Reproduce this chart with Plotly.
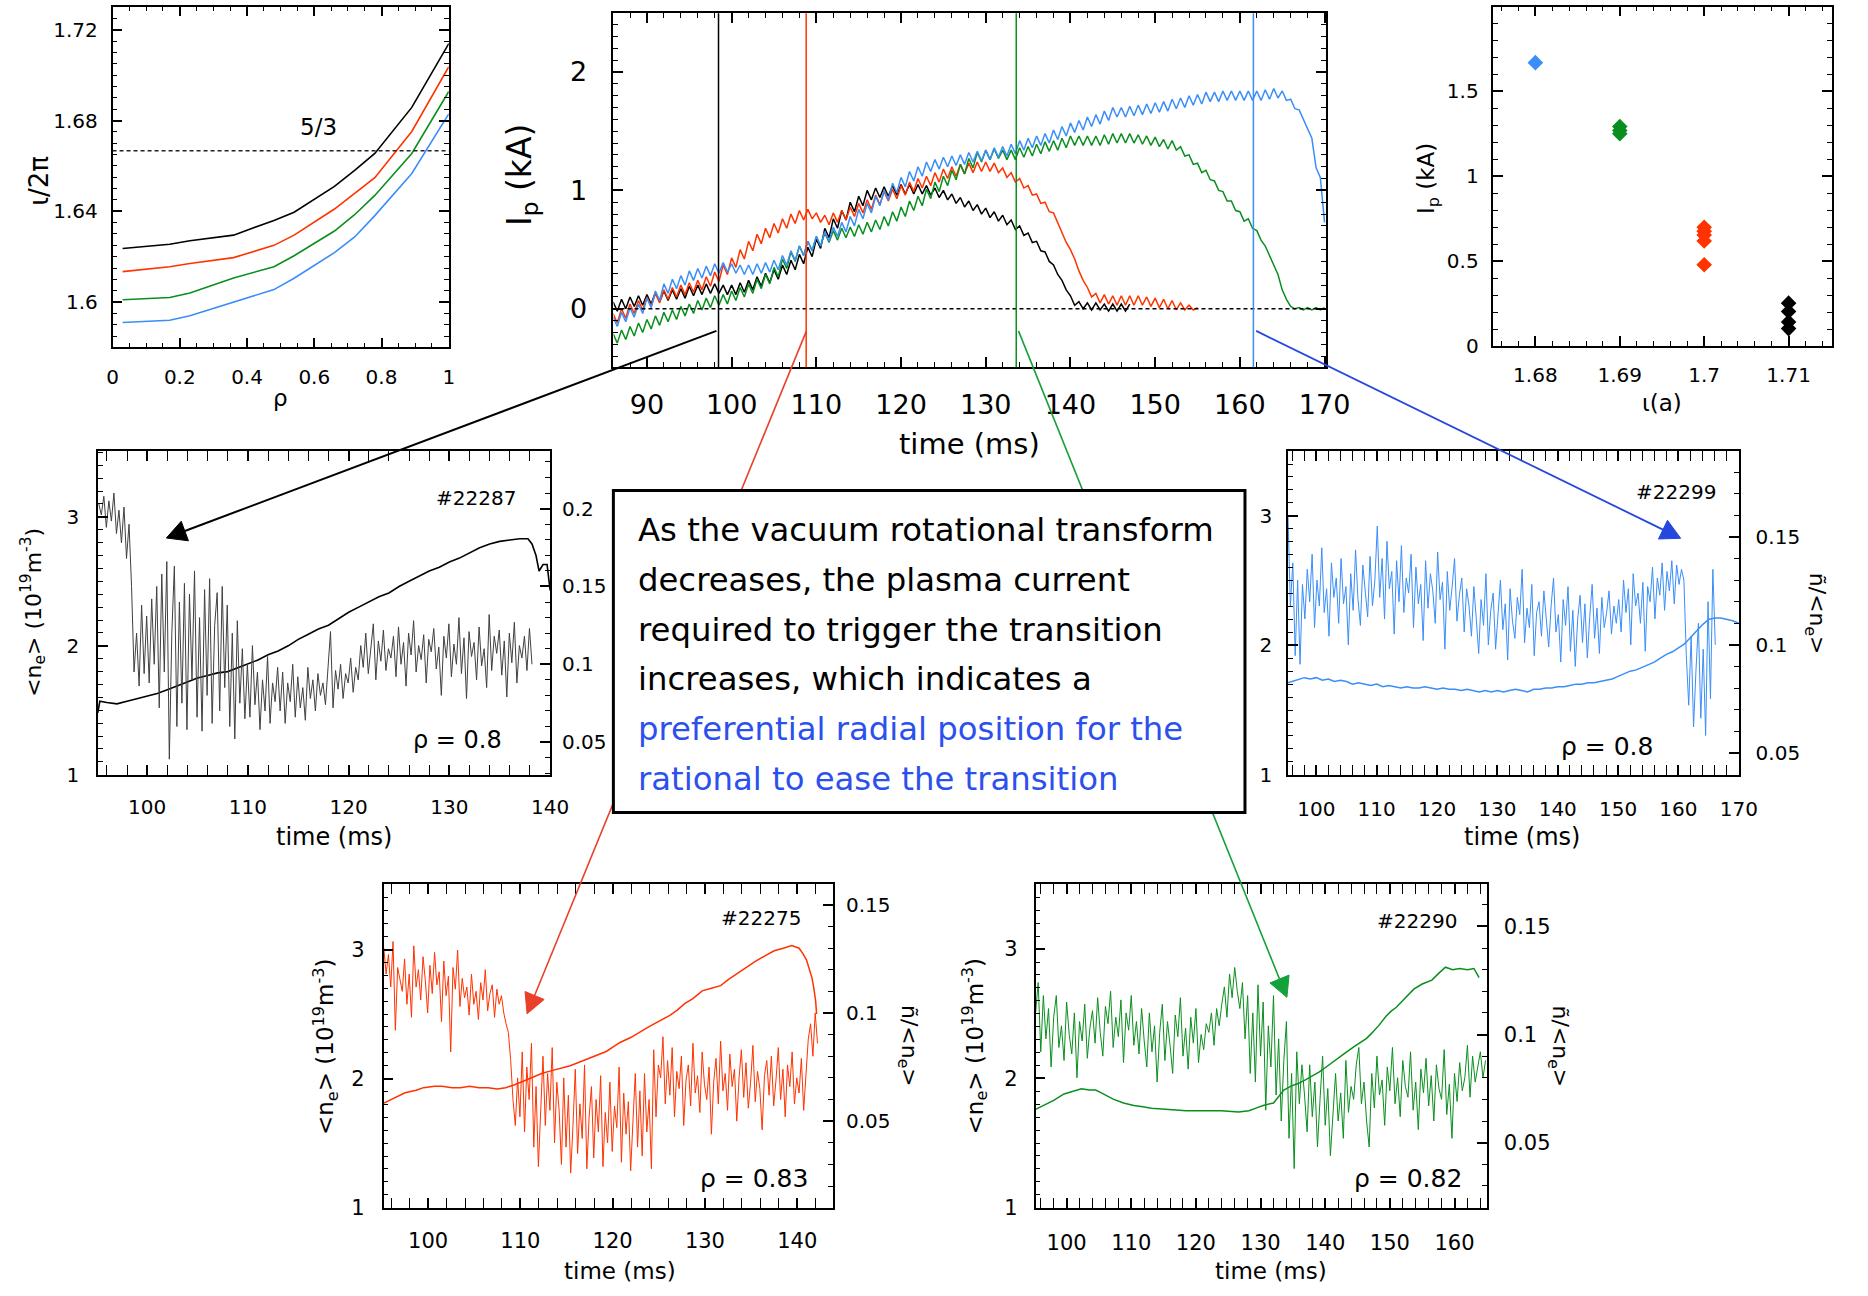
import numpy as np
import plotly.graph_objects as go

W, H = 1868, 1296
FONT = "DejaVu Sans"

# ---------------- colours ----------------
C_BLACK = "#000000"
C_RED = "#FF3300"
C_GREEN = "#0A8F1E"
C_BLUE = "#3A8EF8"
C_GRAY = "#404040"

# ---------------- top-left: iota profiles ----------------
rho = [0.03, 0.17, 0.23, 0.36, 0.48, 0.54, 0.66, 0.72, 0.78, 0.89, 1.0]
iota_black = [1.6236, 1.6255, 1.6270, 1.6295, 1.6360, 1.6396, 1.6510, 1.6580, 1.6655, 1.6858, 1.7139]
iota_red = [1.6134, 1.6156, 1.6170, 1.6196, 1.6250, 1.6295, 1.6410, 1.6480, 1.6548, 1.6752, 1.7037]
iota_green = [1.6010, 1.6020, 1.6040, 1.6106, 1.6156, 1.6204, 1.6313, 1.6385, 1.6470, 1.6655, 1.6928]
iota_blue = [1.5910, 1.5920, 1.5940, 1.6000, 1.6055, 1.6105, 1.6218, 1.6287, 1.6381, 1.6567, 1.6829]
iota_rational = 5 / 3

# ---------------- top-middle: plasma current ----------------
ip_t0, ip_dt = 86.0, 0.5
ip_black = [0.06, -0.02, 0.08, 0.00, 0.10, 0.02, 0.11, 0.03, 0.12, 0.04, 0.14, 0.06, 0.15, 0.07, 0.16, 0.08,
            0.17, 0.09, 0.19, 0.11, 0.20, 0.12, 0.21, 0.13, 0.21, 0.13, 0.20, 0.12, 0.20, 0.12, 0.22, 0.14,
            0.24, 0.16, 0.27, 0.19, 0.30, 0.22, 0.33, 0.25, 0.37, 0.29, 0.41, 0.33, 0.46, 0.38, 0.52, 0.44,
            0.59, 0.51, 0.68, 0.60, 0.76, 0.68, 0.83, 0.75, 0.90, 0.82, 0.95, 0.87, 1.00, 0.92, 1.02, 0.94,
            1.03, 0.95, 1.04, 0.96, 1.05, 0.97, 1.05, 0.97, 1.05, 0.97, 1.04, 0.96, 1.02, 0.94, 1.00, 0.92,
            0.97, 0.89, 0.94, 0.86, 0.91, 0.83, 0.88, 0.80, 0.85, 0.77, 0.82, 0.74, 0.79, 0.71, 0.75, 0.67,
            0.70, 0.62, 0.64, 0.56, 0.57, 0.49, 0.48, 0.40, 0.37, 0.29, 0.24, 0.16, 0.11, 0.03, 0.06, 0.00,
            0.05, -0.01, 0.05, -0.01, 0.04, -0.02, 0.04, -0.02, 0.04, -0.02, 0.04]
ip_red = [-0.04, -0.12, 0.00, -0.08, 0.04, -0.04, 0.07, -0.01, 0.10, 0.02, 0.13, 0.05, 0.16, 0.08, 0.18, 0.10,
          0.20, 0.12, 0.22, 0.14, 0.24, 0.16, 0.27, 0.19, 0.31, 0.23, 0.37, 0.29, 0.43, 0.35, 0.50, 0.42,
          0.57, 0.49, 0.63, 0.55, 0.68, 0.60, 0.72, 0.64, 0.76, 0.68, 0.80, 0.72, 0.83, 0.75, 0.84, 0.76,
          0.81, 0.73, 0.79, 0.71, 0.81, 0.73, 0.83, 0.75, 0.86, 0.78, 0.89, 0.81, 0.92, 0.84, 0.96, 0.88,
          0.99, 0.91, 1.01, 0.93, 1.04, 0.96, 1.07, 0.99, 1.10, 1.02, 1.12, 1.04, 1.15, 1.07, 1.18, 1.10,
          1.20, 1.12, 1.22, 1.14, 1.23, 1.15, 1.24, 1.16, 1.24, 1.16, 1.23, 1.15, 1.19, 1.11, 1.15, 1.07,
          1.10, 1.02, 1.04, 0.96, 0.97, 0.89, 0.90, 0.82, 0.81, 0.73, 0.64, 0.56, 0.50, 0.42, 0.32, 0.24,
          0.18, 0.10, 0.13, 0.05, 0.12, 0.04, 0.11, 0.03, 0.11, 0.03, 0.11, 0.03, 0.11, 0.03, 0.10, 0.02,
          0.09, 0.01, 0.08, 0.00, 0.07, -0.01, 0.05, -0.01, 0.03, -0.01, 0.01]
ip_green = [-0.21, -0.29, -0.18, -0.26, -0.15, -0.23, -0.12, -0.20, -0.09, -0.17, -0.06, -0.14, -0.03, -0.11,
            -0.01, -0.09, 0.02, -0.06, 0.04, -0.04, 0.07, -0.01, 0.09, 0.01, 0.11, 0.03, 0.12, 0.04, 0.15, 0.07,
            0.18, 0.10, 0.21, 0.13, 0.25, 0.17, 0.29, 0.21, 0.35, 0.27, 0.42, 0.34, 0.48, 0.40, 0.53, 0.45,
            0.57, 0.49, 0.61, 0.53, 0.64, 0.56, 0.66, 0.58, 0.68, 0.60, 0.69, 0.61, 0.71, 0.63, 0.73, 0.65,
            0.75, 0.67, 0.78, 0.70, 0.82, 0.74, 0.86, 0.78, 0.91, 0.83, 0.95, 0.87, 1.01, 0.93, 1.07, 0.99,
            1.12, 1.04, 1.17, 1.09, 1.22, 1.14, 1.27, 1.19, 1.32, 1.24, 1.34, 1.26, 1.35, 1.27, 1.34, 1.26,
            1.34, 1.26, 1.36, 1.28, 1.37, 1.29, 1.39, 1.31, 1.41, 1.33, 1.42, 1.34, 1.44, 1.36, 1.46, 1.38,
            1.46, 1.38, 1.46, 1.38, 1.46, 1.38, 1.47, 1.39, 1.48, 1.40, 1.48, 1.40, 1.48, 1.40, 1.47, 1.39,
            1.46, 1.38, 1.45, 1.37, 1.43, 1.35, 1.42, 1.34, 1.37, 1.29, 1.30, 1.22, 1.23, 1.15, 1.17, 1.09,
            1.08, 1.00, 0.99, 0.91, 0.91, 0.83, 0.82, 0.74, 0.76, 0.68, 0.66, 0.58, 0.53, 0.45, 0.37, 0.29,
            0.16, 0.08, 0.02, 0.00, 0.01, -0.01, 0.01, -0.01, 0.01, -0.01, 0.01]
ip_blue = [-0.07, -0.15, -0.03, -0.11, 0.01, -0.07, 0.04, -0.04, 0.09, 0.01, 0.15, 0.07, 0.21, 0.13, 0.25, 0.17,
           0.28, 0.20, 0.32, 0.24, 0.34, 0.26, 0.36, 0.28, 0.38, 0.30, 0.39, 0.31, 0.38, 0.30, 0.37, 0.29,
           0.37, 0.29, 0.38, 0.30, 0.39, 0.31, 0.41, 0.33, 0.45, 0.37, 0.49, 0.41, 0.53, 0.45, 0.57, 0.49,
           0.61, 0.53, 0.65, 0.57, 0.69, 0.61, 0.73, 0.65, 0.78, 0.70, 0.84, 0.76, 0.89, 0.81, 0.95, 0.87,
           1.00, 0.92, 1.06, 0.98, 1.11, 1.03, 1.16, 1.08, 1.20, 1.12, 1.24, 1.16, 1.26, 1.18, 1.28, 1.20,
           1.29, 1.21, 1.30, 1.22, 1.32, 1.24, 1.33, 1.25, 1.34, 1.26, 1.36, 1.28, 1.37, 1.29, 1.39, 1.31,
           1.42, 1.34, 1.44, 1.36, 1.46, 1.38, 1.48, 1.40, 1.51, 1.43, 1.54, 1.46, 1.57, 1.49, 1.59, 1.51,
           1.62, 1.54, 1.64, 1.56, 1.67, 1.59, 1.70, 1.62, 1.70, 1.62, 1.71, 1.63, 1.72, 1.64, 1.73, 1.65,
           1.74, 1.66, 1.75, 1.67, 1.77, 1.69, 1.78, 1.70, 1.80, 1.72, 1.81, 1.73, 1.83, 1.75, 1.83, 1.75,
           1.84, 1.76, 1.84, 1.76, 1.84, 1.76, 1.84, 1.76, 1.84, 1.76, 1.85, 1.77, 1.86, 1.78, 1.84, 1.76,
           1.77, 1.69, 1.68, 1.60, 1.52, 1.44, 1.19, 1.11, 0.73]
marker_times = [98.45, 108.8, 133.6, 161.6]
marker_colors = [C_BLACK, C_RED, C_GREEN, C_BLUE]

# ---------------- top-right: threshold current vs iota(a) ----------------
iota_a_blue, ip_thr_blue = [1.68], [1.67]
iota_a_green, ip_thr_green = [1.69, 1.69, 1.69], [1.294, 1.27, 1.251]
iota_a_red, ip_thr_red = [1.70, 1.70, 1.70, 1.70, 1.70], [0.700, 0.677, 0.654, 0.619, 0.479]
iota_a_black, ip_thr_black = [1.71, 1.71, 1.71, 1.71], [0.253, 0.204, 0.142, 0.103]

# ---------------- #22287 ----------------
ne_22287_t = [95.1, 95.3, 96, 97, 98, 99, 100, 101, 102, 103, 104, 105, 106, 107, 108, 109, 110, 111, 112, 113,
              114, 115, 116, 117, 118, 119, 120, 121, 122, 123, 124, 125, 126, 127, 128, 129, 130, 131, 132,
              133, 134, 135, 136, 137, 137.8, 138.2, 138.6, 138.9, 139.3, 139.7, 140]
ne_22287 = [1.48, 1.57, 1.56, 1.55, 1.57, 1.59, 1.61, 1.63, 1.66, 1.69, 1.72, 1.75, 1.77, 1.79, 1.80, 1.83,
            1.86, 1.89, 1.93, 1.96, 2.00, 2.05, 2.09, 2.13, 2.16, 2.21, 2.26, 2.30, 2.34, 2.38, 2.41, 2.46,
            2.50, 2.54, 2.58, 2.61, 2.65, 2.68, 2.72, 2.76, 2.79, 2.81, 2.82, 2.83, 2.83, 2.79, 2.70, 2.58,
            2.63, 2.63, 2.43]
fl_22287_t0, fl_22287_dt = 95.2, 0.25
fl_22287 = [0.203, 0.196, 0.208, 0.188, 0.205, 0.192, 0.210, 0.184, 0.199, 0.178, 0.201, 0.168, 0.190,
            0.150, 0.095,
            0.120, 0.086, 0.138, 0.094, 0.131, 0.088, 0.142, 0.100,
            0.150, 0.072, 0.158, 0.095, 0.166, 0.039, 0.120, 0.163, 0.060, 0.140, 0.075, 0.152, 0.058, 0.145,
            0.090, 0.160, 0.066, 0.130, 0.057, 0.148, 0.080, 0.155, 0.062, 0.125, 0.146, 0.070, 0.150, 0.085,
            0.138, 0.060, 0.120, 0.052, 0.128, 0.075, 0.110, 0.065,
            0.100, 0.066, 0.112, 0.074, 0.095, 0.058, 0.090, 0.070, 0.105, 0.062, 0.088, 0.076, 0.098,
            0.070, 0.095, 0.062, 0.088, 0.076, 0.100, 0.066, 0.092, 0.072, 0.085, 0.064, 0.098, 0.078, 0.090,
            0.070, 0.094, 0.080, 0.088, 0.074, 0.096,
            0.121, 0.072, 0.096, 0.084, 0.100, 0.078, 0.094, 0.088, 0.104, 0.082, 0.098, 0.090,
            0.112, 0.098, 0.120, 0.094, 0.108, 0.126, 0.090, 0.115, 0.102, 0.122,
            0.096, 0.110, 0.104, 0.118, 0.092, 0.124, 0.100, 0.114, 0.086, 0.120,
            0.106, 0.128, 0.095, 0.112, 0.103, 0.119, 0.088, 0.116, 0.108, 0.123,
            0.097, 0.111, 0.080, 0.118, 0.104, 0.126, 0.092, 0.113, 0.100, 0.130,
            0.094, 0.117, 0.078, 0.121, 0.105, 0.114, 0.090, 0.124, 0.099, 0.110,
            0.085, 0.132, 0.096, 0.118, 0.107, 0.122, 0.093, 0.115, 0.079, 0.120,
            0.101, 0.127, 0.088, 0.112, 0.104, 0.118, 0.096, 0.123, 0.100]

# ---------------- #22299 ----------------
ne_22299_t = [95.3, 96, 97, 98, 99, 100, 101, 102, 103, 104, 105, 106, 107, 108, 109, 110, 111, 112, 113, 114,
              115, 116, 117, 118, 119, 120, 121, 122, 123, 124, 125, 126, 127, 128, 129, 130, 131, 132, 133,
              134, 135, 136, 137, 138, 139, 140, 141, 142, 143, 144, 145, 146, 147, 148, 149, 150, 151, 152,
              153, 154, 155, 156, 157, 158, 159, 160, 161, 162, 163, 164, 165, 166, 167, 168, 169, 170]
ne_22299 = [1.71, 1.72, 1.73, 1.75, 1.74, 1.75, 1.73, 1.74, 1.72, 1.73, 1.72, 1.70, 1.71, 1.70, 1.69, 1.70,
            1.68, 1.69, 1.68, 1.67, 1.68, 1.67, 1.67, 1.68, 1.67, 1.66, 1.67, 1.66, 1.66, 1.65, 1.66, 1.65,
            1.64, 1.65, 1.64, 1.65, 1.64, 1.65, 1.66, 1.65, 1.64, 1.66, 1.66, 1.67, 1.67, 1.68, 1.68, 1.69,
            1.70, 1.70, 1.71, 1.71, 1.72, 1.73, 1.74, 1.76, 1.78, 1.80, 1.81, 1.83, 1.85, 1.87, 1.90, 1.93,
            1.95, 1.98, 2.01, 2.06, 2.11, 2.16, 2.20, 2.21, 2.21, 2.20, 2.19, 2.17]
fl_22299_t0, fl_22299_dt = 95.3, 0.4
fl_22299 = [0.160, 0.118, 0.138, 0.095, 0.130, 0.091,
            0.128, 0.112, 0.135, 0.120, 0.142, 0.108, 0.130, 0.118, 0.145, 0.115,
            0.126, 0.104, 0.138, 0.122, 0.131, 0.110, 0.140, 0.119, 0.127, 0.100,
            0.133, 0.116, 0.144, 0.121, 0.109, 0.137, 0.125, 0.113, 0.141, 0.118,
            0.130, 0.155, 0.122, 0.140, 0.112, 0.148, 0.126, 0.134, 0.105, 0.139,
            0.120, 0.146, 0.115, 0.131, 0.124, 0.142, 0.108, 0.136, 0.119, 0.128,
            0.102, 0.139, 0.117, 0.133, 0.125, 0.110, 0.143, 0.121, 0.129, 0.098,
            0.134, 0.116, 0.127, 0.140, 0.111, 0.123, 0.131, 0.106, 0.126,
            0.118, 0.104, 0.127, 0.112, 0.096, 0.121, 0.109, 0.133, 0.100, 0.116,
            0.124, 0.098, 0.113, 0.130, 0.107, 0.119, 0.093, 0.126, 0.111, 0.103,
            0.122, 0.114, 0.135, 0.101, 0.117, 0.108, 0.128, 0.095, 0.115, 0.120,
            0.104, 0.125, 0.112, 0.099, 0.118, 0.131, 0.106, 0.114, 0.092, 0.121,
            0.109, 0.127, 0.097, 0.116, 0.090, 0.112, 0.123, 0.101, 0.119, 0.094,
            0.113, 0.128, 0.103, 0.117, 0.096, 0.122, 0.108, 0.115, 0.125, 0.105,
            0.118, 0.110,
            0.121, 0.106, 0.130, 0.115, 0.126, 0.100, 0.133, 0.118, 0.124, 0.110,
            0.129, 0.097, 0.127, 0.120, 0.136, 0.112, 0.131, 0.123, 0.138, 0.116,
            0.134, 0.125, 0.139, 0.119, 0.137, 0.128, 0.135, 0.130,
            0.095, 0.072, 0.104, 0.062, 0.088, 0.110, 0.066, 0.098, 0.058, 0.120, 0.075, 0.135, 0.100]

# ---------------- #22275 ----------------
ne_22275_t = [95.2, 96, 96.8, 97.5, 98.7, 99.5, 100.7, 101.5, 102.6, 103.5, 104.5, 105.5, 106.5, 107.5, 108.4,
              109.3, 110.3, 111.3, 112.3, 113.3, 114.4, 115.4, 116.5, 117.5, 118.1, 119.3, 120.8, 122, 123.9,
              125, 126.2, 127, 127.8, 128.7, 129.7, 130.7, 131.7, 132.6, 133.6, 134.5, 135.5, 136.5, 137.5,
              138.5, 139.4, 140.2, 140.6, 141, 141.3, 141.6, 141.8, 142, 142.1]
ne_22275 = [1.81, 1.84, 1.87, 1.89, 1.91, 1.93, 1.94, 1.94, 1.93, 1.93, 1.94, 1.93, 1.93, 1.92, 1.93, 1.95,
            1.98, 2.01, 2.04, 2.06, 2.08, 2.10, 2.13, 2.16, 2.18, 2.21, 2.28, 2.32, 2.40, 2.44, 2.49, 2.53,
            2.58, 2.62, 2.68, 2.70, 2.72, 2.77, 2.82, 2.86, 2.91, 2.95, 2.99, 3.01, 3.03, 3.01, 2.97, 2.92,
            2.85, 2.78, 2.70, 2.60, 2.50]
fl_22275_t0, fl_22275_dt = 95.2, 0.25
fl_22275 = [0.130, 0.118, 0.127, 0.112, 0.133, 0.092, 0.121, 0.116,
            0.110, 0.125, 0.104, 0.118, 0.098, 0.131, 0.112, 0.120, 0.106, 0.126,
            0.115, 0.100, 0.122, 0.109, 0.128, 0.113, 0.119, 0.096, 0.124, 0.108,
            0.117, 0.082, 0.121, 0.111, 0.129, 0.103, 0.116, 0.107,
            0.112, 0.099, 0.118, 0.104, 0.110, 0.097, 0.114, 0.106, 0.120, 0.101,
            0.109, 0.113, 0.098, 0.111, 0.104, 0.108, 0.100, 0.095, 0.091,
            0.078, 0.060, 0.048,
            0.070, 0.052, 0.082, 0.045, 0.075, 0.060, 0.086, 0.038, 0.066, 0.029,
            0.058, 0.080, 0.048, 0.072, 0.055, 0.084, 0.040, 0.068,
            0.055, 0.030, 0.070, 0.038, 0.062, 0.026, 0.048, 0.074, 0.035, 0.058,
            0.042, 0.076, 0.028, 0.052, 0.066, 0.033, 0.060, 0.045, 0.071, 0.029,
            0.054, 0.040, 0.068, 0.036, 0.057, 0.047, 0.075, 0.031, 0.063, 0.044,
            0.059, 0.027, 0.050, 0.072, 0.038, 0.064,
            0.034, 0.072, 0.045, 0.060, 0.028, 0.083, 0.052, 0.076,
            0.070, 0.089, 0.058, 0.078, 0.062, 0.084, 0.052, 0.073, 0.065, 0.080,
            0.048, 0.069, 0.076, 0.057, 0.086, 0.063, 0.071, 0.054, 0.082, 0.067,
            0.060, 0.075, 0.044, 0.068, 0.079, 0.058, 0.087, 0.064, 0.072, 0.055,
            0.081, 0.066, 0.074, 0.050, 0.070, 0.083, 0.061, 0.077, 0.056, 0.068,
            0.085, 0.059, 0.073, 0.065, 0.046, 0.071, 0.078, 0.062, 0.080, 0.057,
            0.069, 0.084, 0.060, 0.074, 0.052, 0.076, 0.066, 0.082, 0.058, 0.070,
            0.063, 0.079, 0.055, 0.072,
            0.088, 0.095, 0.080, 0.100, 0.086]

# ---------------- #22290 ----------------
ne_22290_t = [95.2, 96, 96.9, 98, 99.6, 101, 102.3, 103.5, 104.5, 105.3, 106.1, 107.2, 108.8, 110.4, 111.8,
              113.1, 115.8, 118.5, 121.2, 123.9, 126.6, 128.2, 129.3, 130.4, 132, 132.8, 133.6, 134.7, 135.8,
              137, 138, 139.1, 140.2, 141.5, 142.9, 144.3, 145.6, 146.4, 147.2, 148.3, 149.4, 150.2, 151,
              152.3, 153.7, 155, 156.5, 157.5, 158.6, 159.7, 160.8, 162, 163, 163.8]
ne_22290 = [1.76, 1.78, 1.80, 1.83, 1.88, 1.90, 1.92, 1.91, 1.91, 1.89, 1.87, 1.84, 1.81, 1.79, 1.78, 1.77,
            1.76, 1.75, 1.75, 1.75, 1.74, 1.75, 1.77, 1.79, 1.81, 1.86, 1.91, 1.94, 1.96, 1.99, 2.02, 2.05,
            2.09, 2.14, 2.19, 2.24, 2.28, 2.31, 2.35, 2.41, 2.48, 2.52, 2.55, 2.62, 2.69, 2.73, 2.76, 2.81,
            2.86, 2.84, 2.85, 2.84, 2.85, 2.78]
fl_22290_t0, fl_22290_dt = 95.2, 0.4
fl_22290 = [0.110, 0.124, 0.092, 0.118,
            0.098, 0.112, 0.085, 0.108, 0.118, 0.094, 0.104, 0.088, 0.115, 0.100, 0.091, 0.110, 0.080, 0.106,
            0.097, 0.114, 0.089, 0.103,
            0.111, 0.096, 0.117, 0.101, 0.090, 0.113, 0.105, 0.120, 0.094, 0.108, 0.099, 0.116, 0.087, 0.110,
            0.102, 0.118, 0.095, 0.106, 0.091, 0.112,
            0.097, 0.085, 0.110, 0.092, 0.104, 0.078, 0.101, 0.114, 0.088, 0.106, 0.095, 0.082, 0.109, 0.099,
            0.117, 0.090, 0.103, 0.084, 0.108, 0.096, 0.112, 0.087, 0.100, 0.093, 0.105,
            0.101, 0.110, 0.095, 0.112, 0.104,
            0.114, 0.122, 0.108, 0.128, 0.117, 0.131, 0.120,
            0.112, 0.124, 0.098, 0.118, 0.082,
            0.110, 0.078, 0.123, 0.090, 0.115, 0.065, 0.104, 0.085, 0.118, 0.072,
            0.098, 0.060, 0.088, 0.106, 0.052, 0.082, 0.038, 0.092, 0.068, 0.086,
            0.072, 0.055, 0.086, 0.062, 0.078, 0.048, 0.070, 0.090, 0.058, 0.075, 0.044, 0.066, 0.082, 0.060,
            0.073, 0.052, 0.088, 0.064, 0.076,
            0.070, 0.086, 0.094, 0.068, 0.078, 0.060, 0.048,
            0.082, 0.066, 0.090, 0.072, 0.079, 0.058, 0.085, 0.074, 0.094, 0.068,
            0.080, 0.062, 0.088, 0.076, 0.071, 0.092, 0.065, 0.078, 0.056, 0.084,
            0.073, 0.089, 0.067, 0.081, 0.060, 0.086, 0.075, 0.070, 0.093, 0.063,
            0.077, 0.052, 0.082, 0.069, 0.087, 0.074, 0.080, 0.095, 0.071, 0.090,
            0.078, 0.085, 0.092, 0.080, 0.088]

box_lines_black = ["As the vacuum rotational transform", "decreases, the plasma current",
                   "required to trigger the transition", "increases, which indicates a"]
box_lines_blue = ["preferential radial position for the", "rational to ease the transition"]


# ---------------- helpers ----------------
def px(x):
    return x / W


def py(y):
    return 1 - y / H


def dom_x(a, b):
    return [px(a), px(b)]


def dom_y(top, bottom):
    return [py(bottom), py(top)]


def axis(size, rng, dtick, minor, domain, **kw):
    d = dict(range=rng, dtick=dtick, domain=domain, showline=True, linecolor="black", linewidth=1.6,
             ticks="inside", ticklen=10, tickwidth=1.5, tickcolor="black", showgrid=False, zeroline=False,
             tickfont=dict(family=FONT, size=size, color="black"),
             minor=dict(dtick=minor, ticks="inside", ticklen=5, tickwidth=1.2, tickcolor="black", showgrid=False))
    d.update(kw)
    return d


def tarr(t0, dt, vals):
    return t0 + dt * np.arange(len(vals))


fig = go.Figure()


def line(x, y, xa, ya, color, width):
    fig.add_trace(go.Scatter(x=x, y=y, xaxis=xa, yaxis=ya, mode="lines",
                             line=dict(color=color, width=width), showlegend=False, hoverinfo="skip"))


# top-left
for vals, col in [(iota_black, C_BLACK), (iota_red, C_RED), (iota_green, C_GREEN), (iota_blue, C_BLUE)]:
    line(rho, vals, "x", "y", col, 1.6)

# top-middle
for vals, col in [(ip_black, C_BLACK), (ip_red, C_RED), (ip_green, C_GREEN), (ip_blue, C_BLUE)]:
    line(tarr(ip_t0, ip_dt, vals), vals, "x2", "y2", col, 1.5)

# top-right
for xs, ys, col in [(iota_a_blue, ip_thr_blue, C_BLUE), (iota_a_green, ip_thr_green, C_GREEN),
                    (iota_a_red, ip_thr_red, C_RED), (iota_a_black, ip_thr_black, C_BLACK)]:
    fig.add_trace(go.Scatter(x=xs, y=ys, xaxis="x3", yaxis="y3", mode="markers",
                             marker=dict(symbol="diamond", size=12, color=col, line=dict(width=0)),
                             showlegend=False, hoverinfo="skip"))

# middle / bottom panels
line(tarr(fl_22287_t0, fl_22287_dt, fl_22287), fl_22287, "x4", "y5", C_GRAY, 1.0)
line(ne_22287_t, ne_22287, "x4", "y4", C_BLACK, 1.6)
line(tarr(fl_22299_t0, fl_22299_dt, fl_22299), fl_22299, "x5", "y7", C_BLUE, 1.0)
line(ne_22299_t, ne_22299, "x5", "y6", C_BLUE, 1.5)
line(tarr(fl_22275_t0, fl_22275_dt, fl_22275), fl_22275, "x6", "y9", C_RED, 1.0)
line(ne_22275_t, ne_22275, "x6", "y8", C_RED, 1.5)
line(tarr(fl_22290_t0, fl_22290_dt, fl_22290), fl_22290, "x7", "y11", C_GREEN, 1.0)
line(ne_22290_t, ne_22290, "x7", "y10", C_GREEN, 1.5)

# ---------------- axes ----------------
TL = (dom_x(108.3, 450.0), dom_y(6.7, 350.7))
TM = (dom_x(617.4, 1341.8), dom_y(13.3, 370.7))
TR = (dom_x(1511.7, 1855.7), dom_y(6.7, 349.3))
ML = (dom_x(93.5, 553.0), dom_y(455.3, 782.0))
MR = (dom_x(1302.9, 1761.1), dom_y(455.3, 782.0))
BL = (dom_x(383.7, 840.7), dom_y(892.7, 1219.0))
BR = (dom_x(1046.4, 1505.0), dom_y(892.7, 1219.0))

lay = {}
lay["xaxis"] = axis(20, [0, 1], 0.2, 0.05, TL[0], anchor="y", mirror="allticks", ticklabelstandoff=11)
lay["yaxis"] = axis(20, [1.58, 1.7302], 0.04, 0.005, TL[1], anchor="x", mirror="allticks", ticklabelstandoff=9)
lay["xaxis2"] = axis(27, [86.05, 170.2], 10, 2, TM[0], anchor="y2", mirror="allticks", ticklabelstandoff=13)
lay["yaxis2"] = axis(27, [-0.494, 2.497], 1, 0.1, TM[1], anchor="x2", mirror="allticks", ticklabelstandoff=19)
lay["xaxis3"] = axis(20, [1.67503, 1.71513], 0.01, 0.002, TR[0], anchor="y3", mirror="allticks", ticklabelstandoff=10)
lay["yaxis3"] = axis(20, [0, 2], 0.5, 0.1, TR[1], anchor="x3", mirror="allticks", ticklabelstandoff=9)

lay["xaxis4"] = axis(20, [95.12, 140], 10, 2, ML[0], anchor="y4", mirror="allticks", ticklabelstandoff=13)
lay["yaxis4"] = axis(20, [1, 3.51], 1, 0.1, ML[1], anchor="x4", ticklabelstandoff=13)
lay["yaxis5"] = axis(20, [0.029, 0.237], 0.05, 0.01, ML[1], anchor="x4", overlaying="y4", side="right",
                     ticklabelstandoff=6)
lay["xaxis5"] = axis(20, [95.3, 170], 10, 2, MR[0], anchor="y6", mirror="allticks", ticklabelstandoff=15)
lay["yaxis6"] = axis(20, [1, 3.5], 1, 0.1, MR[1], anchor="x5", ticklabelstandoff=10)
lay["yaxis7"] = axis(20, [0.0398, 0.1898], 0.05, 0.01, MR[1], anchor="x5", overlaying="y6", side="right",
                     ticklabelstandoff=11)
lay["xaxis6"] = axis(21, [95.17, 143.9], 10, 2, BL[0], anchor="y8", mirror="allticks", ticklabelstandoff=13)
lay["yaxis8"] = axis(21, [1, 3.504], 1, 0.1, BL[1], anchor="x6", ticklabelstandoff=13)
lay["yaxis9"] = axis(20, [0.010, 0.1594], 0.05, 0.01, BL[1], anchor="x6", overlaying="y8", side="right",
                     ticklabelstandoff=7)
lay["xaxis7"] = axis(21, [95.2, 165.0], 10, 2, BR[0], anchor="y10", mirror="allticks", ticklabelstandoff=15)
lay["yaxis10"] = axis(21, [1, 3.5], 1, 0.1, BR[1], anchor="x7", ticklabelstandoff=12)
lay["yaxis11"] = axis(21, [0.0199, 0.1694], 0.05, 0.01, BR[1], anchor="x7", overlaying="y10", side="right",
                      ticklabelstandoff=11)

# ---------------- shapes ----------------
shapes = []
shapes.append(dict(type="line", xref="x domain", yref="y", x0=0, x1=1, y0=iota_rational, y1=iota_rational,
                   line=dict(color="#222222", width=1.5, dash="4px,3px")))
shapes.append(dict(type="line", xref="x2 domain", yref="y2", x0=0, x1=1, y0=0, y1=0,
                   line=dict(color="#000000", width=1.5, dash="4px,3px")))
for t, col in zip(marker_times, marker_colors):
    shapes.append(dict(type="line", xref="x2", yref="y2 domain", x0=t, x1=t, y0=0, y1=1,
                       line=dict(color=col, width=1.5)))

# arrows: (tail px, tip px, colour, width)
arrows = [((722, 334), (163, 543), "#000000", 2.0),
          ((813.5, 334), (529.6, 1023.3), "#E8402A", 1.6),
          ((1029, 334), (1301.8, 1006.7), "#14A03A", 1.6),
          ((1270.6, 334), (1702, 543.3), "#2547E0", 1.8)]
for (x0, y0), (x1, y1), col, w in arrows:
    dx, dy = x1 - x0, y1 - y0
    L = (dx * dx + dy * dy) ** 0.5
    ux, uy = dx / L, dy / L
    hl, hw = 20, 10.5
    bx, by = x1 - ux * hl, y1 - uy * hl
    shapes.append(dict(type="line", xref="paper", yref="paper", x0=px(x0), y0=py(y0), x1=px(bx), y1=py(by),
                       line=dict(color=col, width=w)))
    pts = [(x1, y1), (bx - uy * hw, by + ux * hw), (bx + uy * hw, by - ux * hw)]
    path = "M " + " L ".join(f"{px(a):.5f},{py(b):.5f}" for a, b in pts) + " Z"
    shapes.append(dict(type="path", xref="paper", yref="paper", path=path, fillcolor=col,
                       line=dict(color=col, width=1)))

# text box
shapes.append(dict(type="rect", xref="paper", yref="paper", x0=px(617.3), x1=px(1259.2), y0=py(820),
                   y1=py(495), fillcolor="white", line=dict(color="black", width=3)))

# ---------------- annotations ----------------
ann = []


def text(x, y, s, size, angle=0, color="black", xanchor="center", yanchor="middle"):
    ann.append(dict(x=px(x), y=py(y), xref="paper", yref="paper", text=s, showarrow=False,
                    textangle=angle, xanchor=xanchor, yanchor=yanchor,
                    font=dict(family=FONT, size=size, color=color)))


for k, s in enumerate(box_lines_black + box_lines_blue):
    col = "black" if k < 4 else "#2B50EE"
    text(640, 535 + 50.2 * k, s, 32.3, color=col, xanchor="left")

ann.append(dict(x=0.614, y=1.677, xref="x", yref="y", text="5/3", showarrow=False,
                font=dict(family=FONT, size=23, color="black")))

text(34, 182, "ι/2π", 26, angle=-90)
text(279, 402, "ρ", 23)
text(524, 177, "I<sub>p</sub> (kA)", 33, angle=-90)
text(979, 448, "time (ms)", 29)
text(1446, 180, "I<sub>p</sub> (kA)", 23, angle=-90)
text(1683, 407, "ι(a)", 23)

NE = "&lt;n<sub>e</sub>&gt; (10<sup>19</sup>m<sup>-3</sup>)"
FL = "ñ/&lt;n<sub>e</sub>&gt;"
text(28, 618, NE, 22, angle=-90)
text(333, 845, "time (ms)", 24)
text(478, 503, "#22287", 20)
text(459, 747, "ρ = 0.8", 24)

text(1839, 620, FL, 22, angle=90)
text(1697, 497, "#22299", 20)
text(1627, 753, "ρ = 0.8", 25)
text(1541, 845, "time (ms)", 24)

text(324, 1056, NE, 23, angle=-90)
text(917, 1056, FL, 22, angle=90)
text(767, 927, "#22275", 20)
text(760, 1190, "ρ = 0.83", 25)
text(624, 1283, "time (ms)", 23)

text(984, 1056, NE, 23, angle=-90)
text(1578, 1056, FL, 22, angle=90)
text(1434, 930, "#22290", 20)
text(1425, 1190, "ρ = 0.82", 25)
text(1286, 1283, "time (ms)", 23)

fig.update_layout(width=W, height=H, margin=dict(l=0, r=0, t=0, b=0), paper_bgcolor="white",
                  plot_bgcolor="white", showlegend=False, shapes=shapes, annotations=ann,
                  font=dict(family=FONT, color="black"), **lay)

fig.write_html("out.html", include_plotlyjs=True, config={"displayModeBar": False})
